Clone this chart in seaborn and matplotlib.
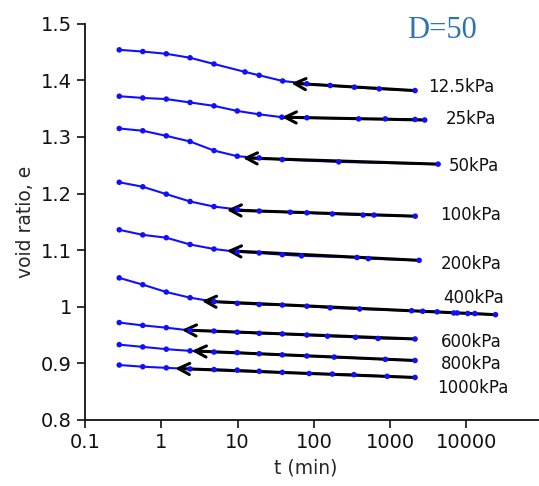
import pandas as pd
import seaborn as sns
import matplotlib.pyplot as plt
import numpy as np

# loads and readings (time in min, void ratio e)
loads = ['12.5kPa', '25kPa', '50kPa', '100kPa', '200kPa', '400kPa', '600kPa', '800kPa', '1000kPa']

t_12_5 = [0.28, 0.57, 1.16, 2.38, 4.9, 12.5, 19.2, 39, 81, 164, 340, 720, 2130]
e_12_5 = [1.454, 1.451, 1.447, 1.440, 1.429, 1.415, 1.409, 1.399, 1.394, 1.391, 1.388, 1.385, 1.382]

t_25 = [0.28, 0.57, 1.16, 2.38, 4.9, 9.9, 19.2, 38, 81, 387, 867, 2130, 2850]
e_25 = [1.372, 1.369, 1.367, 1.361, 1.355, 1.346, 1.340, 1.335, 1.334, 1.332, 1.332, 1.331, 1.330]

t_50 = [0.28, 0.57, 1.16, 2.38, 4.9, 9.9, 19.2, 38.6, 212, 4275]
e_50 = [1.315, 1.311, 1.302, 1.292, 1.276, 1.266, 1.263, 1.260, 1.256, 1.252]

t_100 = [0.28, 0.57, 1.16, 2.38, 4.9, 9.9, 19.2, 49, 81, 175, 443, 616, 2140]
e_100 = [1.220, 1.212, 1.199, 1.186, 1.177, 1.172, 1.169, 1.167, 1.166, 1.164, 1.162, 1.162, 1.160]

t_200 = [0.28, 0.57, 1.16, 2.38, 4.9, 9.9, 19.2, 38.6, 69, 369, 519, 2410]
e_200 = [1.136, 1.127, 1.122, 1.110, 1.102, 1.097, 1.095, 1.092, 1.090, 1.087, 1.085, 1.082]

t_400 = [0.28, 0.57, 1.16, 2.38, 4.9, 9.9, 19.2, 38.6, 81, 164, 399, 1918, 2680, 4150,
         6850, 7590, 10470, 12940, 24200]
e_400 = [1.051, 1.039, 1.026, 1.016, 1.009, 1.006, 1.004, 1.003, 1.001, 0.998, 0.996, 0.993,
         0.992, 0.991, 0.989, 0.989, 0.988, 0.988, 0.986]

t_600 = [0.28, 0.57, 1.16, 2.38, 4.9, 9.9, 19.2, 38.6, 81, 151, 353, 695, 2130]
e_600 = [0.972, 0.967, 0.963, 0.958, 0.957, 0.955, 0.953, 0.952, 0.950, 0.948, 0.946, 0.944, 0.943]

t_800 = [0.28, 0.57, 1.16, 2.38, 4.9, 9.9, 19.2, 38.6, 81, 185, 867, 2130]
e_800 = [0.933, 0.929, 0.925, 0.922, 0.920, 0.919, 0.917, 0.915, 0.913, 0.911, 0.907, 0.905]

t_1000 = [0.28, 0.57, 1.16, 2.38, 4.9, 9.9, 19.2, 38.6, 87, 175, 336, 916, 2130]
e_1000 = [0.897, 0.894, 0.892, 0.890, 0.889, 0.888, 0.886, 0.884, 0.882, 0.881, 0.880, 0.877, 0.875]

# where the secondary-compression arrows end
arrow_t = [50.5, 38, 11.7, 7.2, 7.2, 3.39, 1.85, 2.5, 1.51]
arrow_e = [1.395, 1.335, 1.263, 1.171, 1.099, 1.010, 0.959, 0.922, 0.891]

# label anchors
label_t = [3190, 5330, 5830, 4580, 4670, 4970, 4580, 4670, 4150]
label_e = [1.389, 1.332, 1.248, 1.162, 1.076, 1.016, 0.938, 0.899, 0.857]

times = [t_12_5, t_25, t_50, t_100, t_200, t_400, t_600, t_800, t_1000]
voids = [e_12_5, e_25, e_50, e_100, e_200, e_400, e_600, e_800, e_1000]

df = pd.concat([pd.DataFrame({'t': t, 'e': e, 'load': name})
                for t, e, name in zip(times, voids, loads)], ignore_index=True)

sns.set_style('ticks')
plt.rcParams['font.family'] = ['DejaVu Sans']

fig, ax = plt.subplots(figsize=(5.39, 4.86), dpi=100)
fig.subplots_adjust(left=0.158, right=1.0, bottom=0.136, top=0.951)

sns.lineplot(data=df, x='t', y='e', units='load', estimator=None, sort=False,
             color='#1010ff', lw=1.5, ax=ax, zorder=2)

for t, e, at, ae in zip(times, voids, arrow_t, arrow_e):
    ax.annotate('', xy=(at, ae), xytext=(t[-1], e[-1]),
                arrowprops=dict(arrowstyle='->', color='black', lw=2.2,
                                shrinkA=0, shrinkB=0, mutation_scale=20),
                zorder=3)

sns.scatterplot(data=df, x='t', y='e', color='#1010ff', s=16, edgecolor='none',
                ax=ax, zorder=4, legend=False)

for name, lt, le in zip(loads, label_t, label_e):
    ax.text(lt, le, name, fontsize=12, ha='left', va='center', color='#111111')

ax.set_xscale('log')
ax.set_xlim(0.1, 9.0e4)
ax.set_ylim(0.8, 1.5)
xt = [0.1, 1, 10, 100, 1000, 10000]
ax.set_xticks(xt)
ax.set_xticklabels(['0.1', '1', '10', '100', '1000', '10000'])
ax.minorticks_off()
yt = [0.8, 0.9, 1.0, 1.1, 1.2, 1.3, 1.4, 1.5]
ax.set_yticks(yt)
ax.set_yticklabels(['0.8', '0.9', '1', '1.1', '1.2', '1.3', '1.4', '1.5'])
ax.tick_params(axis='both', direction='out', length=6, width=1.2, labelsize=14,
               colors='#111111')

ax.set_xlabel('t (min)', fontsize=13.5)
ax.set_ylabel('void ratio, e', fontsize=13.5)
ax.xaxis.set_label_coords(0.485, -0.098)

for side in ['top', 'right']:
    ax.spines[side].set_visible(False)
for side in ['left', 'bottom']:
    ax.spines[side].set_linewidth(1.3)
    ax.spines[side].set_color('#111111')

fig.text(0.755, 0.937, 'D=50', family=['Liberation Serif', 'DejaVu Serif'],
         fontsize=22, color='#2e72b6', ha='left', va='center')

fig.savefig('out.png', dpi=100)
